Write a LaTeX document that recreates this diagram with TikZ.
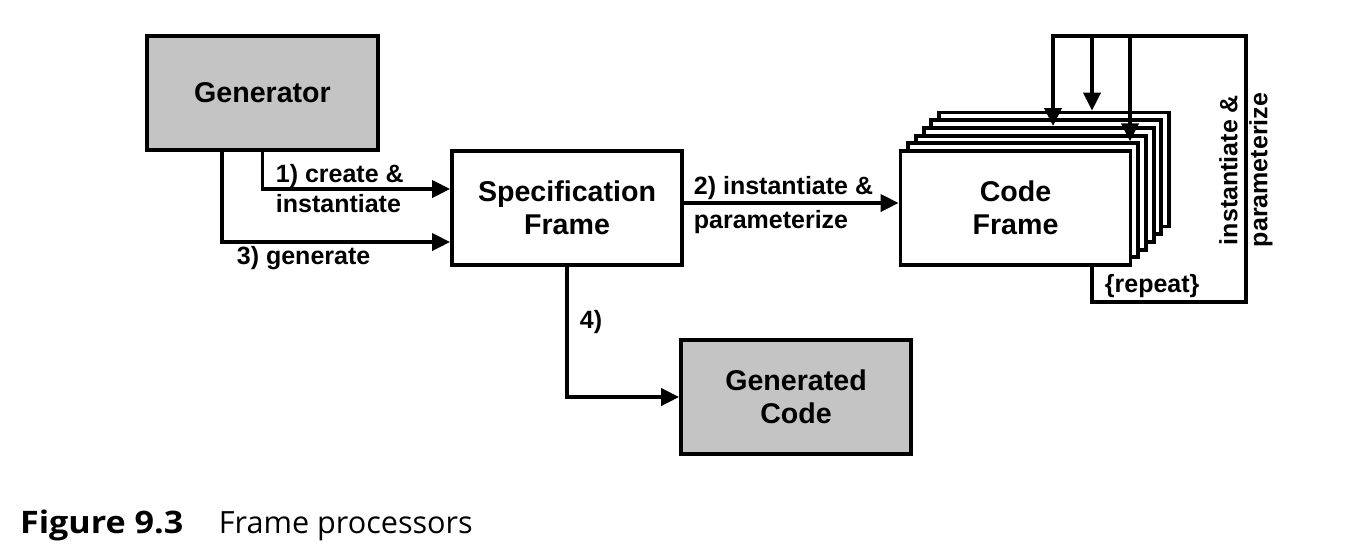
\documentclass[tikz,border=0pt]{standalone}
\usepackage{fontspec}
\setmainfont{Liberation Sans}
\newfontfamily\capfont{Open Sans}
\usetikzlibrary{arrows.meta}
\definecolor{boxgray}{RGB}{196,196,196}

\begin{document}
\begin{tikzpicture}[x=0.5pt, y=-0.5pt, line width=1.9pt,
	box/.style={draw, minimum width=115pt, minimum height=57pt, align=center, inner sep=0pt, font=\fontsize{14.3}{16.5}\selectfont\bfseries},
	lbl/.style={align=left, inner sep=0pt, font=\fontsize{12.5}{15}\selectfont\bfseries},
	arr/.style={-{Triangle[length=9pt, width=8.5pt]}}]
	\useasboundingbox (0,0) rectangle (1352,554);

	\node [box, fill=boxgray, minimum width=115.5pt] (gen) at (262.5,93) {\raisebox{-2pt}{Generator}};
	\node [box] (spec) at (567,208) {Specification\\Frame};

	% stacked code frames, back to front
	\foreach \k in {5,4,3,2,1} {
		\node [box, fill=white] (f\k) at (1015.5+7.7*\k, 208-7.7*\k) {};
	}
	\node [box, fill=white] (code) at (1015.5,208) {Code\\Frame};
	\node [box, fill=boxgray] (out) at (796,397) {Generated\\Code};

	\draw [arr] (gen.south) |- ([yshift=9.5pt]spec.west);
	\draw [arr] ([xshift=38.5pt]gen.south west) |- ([yshift=-17pt]spec.west);
	\draw [arr] ([yshift=2.5pt]spec.east) -- ([yshift=2.5pt]code.west);
	\draw [arr] (spec.south) |- (out.west);

	% repeat loop
	\coordinate (c1) at (1092,302);
	\coordinate (c2) at (1246,36);
	\coordinate (t1) at (1053,36);
	\coordinate (t2) at (1092,36);
	\coordinate (t3) at (1130,36);
	\draw [arr] (code.south -| c1) -- (c1) -| (c2) -- (t1) -- (t1 |- f3.north);
	\draw [arr] (t2) -- (t2 |- f5.north);
	\draw [arr] (t3) -- (t3 |- f1.north);

	\node [lbl, anchor=west] (l1) at (274,189) {1) create \&\\instantiate};
	\node [lbl, anchor=west] (l3) at (235,258) {3) generate};
	\node [lbl, anchor=west, font=\fontsize{12.5}{17}\selectfont\bfseries] (l2) at (692,205) {2) instantiate \&\\parameterize};
	\node [lbl, anchor=west] (l4) at (578,322) {4)};
	\node [lbl, anchor=west] (lr) at (1103,286) {\{repeat\}};
	\node [lbl, rotate=90, align=center] (lp) at (1246,170) {instantiate \&\\parameterize};

	%\node at (676,480) {};
	\node [anchor=base west, inner sep=0pt, xscale=1.1, transform shape, font=\capfont\fontsize{15.5}{17}\selectfont\bfseries] (fig) at (18,533) {Figure 9.3};
	\node [anchor=base west, inner sep=0pt, font=\capfont\fontsize{15.3}{17}\selectfont] (cap) at (217,533) {Frame processors};
\end{tikzpicture}
\end{document}
